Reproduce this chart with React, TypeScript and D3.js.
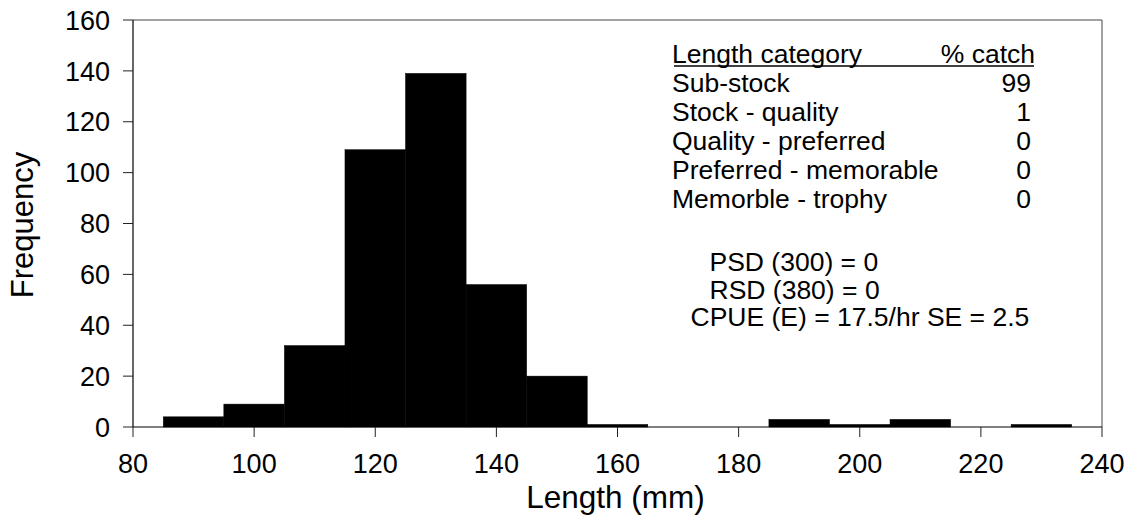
import React from "react";
import * as d3 from "d3";

const binCenters = [90, 100, 110, 120, 130, 140, 150, 160, 170, 180, 190, 200, 210, 220, 230];
const frequencies = [4, 9, 32, 109, 139, 56, 20, 1, 0, 0, 3, 1, 3, 0, 1];
const binWidth = 10;
const xTicks = [80, 100, 120, 140, 160, 180, 200, 220, 240];
const yTicks = [0, 20, 40, 60, 80, 100, 120, 140, 160];
const lengthCategories = [
  "Sub-stock",
  "Stock - quality",
  "Quality - preferred",
  "Preferred - memorable",
  "Memorble - trophy",
];
const percentCatch = [99, 1, 0, 0, 0];
const indexLines = ["PSD (300) = 0", "RSD (380) = 0", "CPUE (E) = 17.5/hr SE = 2.5"];

const W = 1128;
const H = 521;
const left = 133;
const right = 1102;
const top = 20;
const bottom = 427;
const FONT = "'Liberation Sans', Arial, sans-serif";

type TProps = {
  x: number;
  y: number;
  size: number;
  anchor?: "start" | "middle" | "end";
  children: React.ReactNode;
};
const T = ({ x, y, size, anchor = "start", children }: TProps) => (
  <text x={x} y={y} fontSize={size} fontFamily={FONT} textAnchor={anchor} fill="#000">
    {children}
  </text>
);

export default function App() {
  const x = d3.scaleLinear().domain([80, 240]).range([left, right]);
  const y = d3.scaleLinear().domain([0, 160]).range([bottom, top]);

  const tickSize = 27;
  const annX = 672;
  const annRight = 1031;
  const annSize = 26.5;
  const headerY = 63;
  const rowStep = 28.9;
  const indexX = [709.5, 709.5, 690.5];
  const indexY = [271, 298.5, 326];

  return (
    <svg
      width={W}
      height={H}
      style={{ position: "absolute", left: 0, top: 0, background: "#fff" }}
    >
      <rect x={0} y={0} width={W} height={H} fill="#fff" />
      {/* bars */}
      {binCenters.map((c, i) => (
        <rect
          key={c}
          x={x(c - binWidth / 2)}
          y={y(frequencies[i])}
          width={x(c + binWidth / 2) - x(c - binWidth / 2)}
          height={y(0) - y(frequencies[i])}
          fill="#000"
          stroke="#000"
          strokeWidth={0.5}
        />
      ))}
      {/* frame */}
      <line x1={left} x2={right} y1={top} y2={top} stroke="#444" strokeWidth={1} />
      <line x1={right} x2={right} y1={top} y2={bottom} stroke="#444" strokeWidth={1} />
      {/* axes */}
      <line x1={left} x2={left} y1={top} y2={bottom} stroke="#000" strokeWidth={1.2} />
      <line x1={left} x2={right} y1={bottom} y2={bottom} stroke="#000" strokeWidth={1.2} />
      {yTicks.map((t) => (
        <g key={"y" + t}>
          <line x1={left - 10} x2={left} y1={y(t)} y2={y(t)} stroke="#222" strokeWidth={1} />
          <T x={110} y={y(t) + 9.7} size={tickSize} anchor="end">
            {t}
          </T>
        </g>
      ))}
      {xTicks.map((t) => (
        <g key={"x" + t}>
          <line x1={x(t)} x2={x(t)} y1={bottom} y2={bottom + 10} stroke="#222" strokeWidth={1} />
          <T x={x(t)} y={473} size={tickSize} anchor="middle">
            {t}
          </T>
        </g>
      ))}
      {/* axis titles */}
      <T x={(left + right) / 2 - 2} y={508} size={31.5} anchor="middle">
        Length (mm)
      </T>
      <text
        transform={`translate(33,225) rotate(-90)`}
        fontSize={31}
        fontFamily={FONT}
        textAnchor="middle"
        fill="#000"
      >
        Frequency
      </text>
      {/* annotation table */}
      <T x={annX} y={headerY} size={annSize}>
        Length category
      </T>
      <T x={annRight + 4} y={headerY} size={annSize} anchor="end">
        % catch
      </T>
      <line x1={annX + 2} x2={annRight + 3} y1={headerY + 3} y2={headerY + 3} stroke="#000" strokeWidth={1.5} />
      {lengthCategories.map((c, i) => (
        <g key={c}>
          <T x={annX} y={headerY + rowStep * (i + 1)} size={annSize}>
            {c}
          </T>
          <T x={annRight} y={headerY + rowStep * (i + 1)} size={annSize} anchor="end">
            {percentCatch[i]}
          </T>
        </g>
      ))}
      {indexLines.map((s, i) => (
        <T key={s} x={indexX[i]} y={indexY[i]} size={annSize}>
          {s}
        </T>
      ))}
    </svg>
  );
}
